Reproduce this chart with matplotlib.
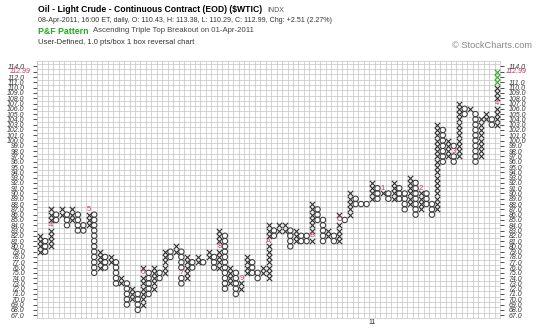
import matplotlib
matplotlib.use("Agg")
import matplotlib.pyplot as plt
import matplotlib.transforms as mtransforms
import numpy as np

# ---------------- data ----------------
col_type = ['X','O','X','O','X','O','X','O','O','X',
            'O','X','O','X','O','X','O','X','O','X',
            'O','X','O','X','O','X','O','X','O','X',
            'O','X','O','X','O','X','O','X','X','O',
            'O','X','X','O','X','X','O','X','O','O',
            'X','O','O','X','O','X','O','X','O','O',
            'O','X','O','X','O','X','O','O','X','O',
            'X','O','O','X','O','X','O','X','O','X',
            'O','X','X','O','X']
col_low = [79,79,80,85,86,84,85,83,83,84,
           75,76,76,77,73,73,69,70,68,69,
           71,72,74,75,78,79,73,74,76,77,
           77,78,76,76,72,73,71,72,75,75,
           74,75,74,82,83,83,80,81,81,81,
           81,85,81,82,81,81,85,86,88,88,
           88,89,89,90,89,89,89,87,88,86,
           87,88,86,87,96,97,96,97,105,106,
           96,97,104,103,103]
col_high = [82,81,87,86,87,86,87,86,84,87,
            86,79,78,78,77,74,73,72,71,76,
            75,76,75,79,79,80,79,78,77,78,
            77,79,78,83,82,76,75,74,78,77,
            75,76,84,83,84,84,83,83,82,82,
            88,87,85,83,82,86,85,90,89,88,
            88,92,91,91,90,92,91,90,93,92,
            91,90,88,103,102,100,99,107,106,106,
            105,104,105,104,113]
# month markers (column, box price, label)
month_col = [2, 9, 19, 26, 33, 37, 42, 50, 55, 63, 70, 76, 84]
month_box = [84, 87, 75, 75, 80, 74, 81, 82, 85, 91, 91, 98, 107]
month_lbl = ['4','5','6','7','8','9','A','B','C','1','2','3','4']
# latest boxes (shown in green)
new_col = [84, 84, 84]
new_box = [111, 112, 113]
last_close = 112.99
year_col = [61]
year_lbl = ['11']
price_levels = list(range(67, 115))

# ---------------- figure ----------------
W, H = 552, 329
fig = plt.figure(figsize=(W/100, H/100), dpi=100)
fig.patch.set_facecolor('white')
plt.rcParams['font.family'] = ['Liberation Sans', 'DejaVu Sans']

ax_left, ax_right, ax_top, ax_bot = 37, 500, 61.2, 317.8
ax = fig.add_axes([ax_left/W, 1-ax_bot/H, (ax_right-ax_left)/W, (ax_bot-ax_top)/H])
ncol = len(col_type)
ax.set_xlim(-0.5, ncol-0.5)
ax.set_ylim(66.5, 115.0)

# grid
for gx in np.arange(-0.5, ncol, 1.0):
    ax.axvline(gx, color='#c4c4c4', lw=0.5, zorder=1)
for gy in np.arange(66.5, 115.1, 1.0):
    ax.axhline(gy, color='#c4c4c4', lw=0.5, zorder=1)
for s in ax.spines.values():
    s.set_color('#c4c4c4'); s.set_linewidth(0.5)

# boxes
marked = set(zip(month_col, month_box))
green = set(zip(new_col, new_box))
xs_x, xs_y, os_x, os_y, gx_, gy_ = [], [], [], [], [], []
for i, (t, lo, hi) in enumerate(zip(col_type, col_low, col_high)):
    for p in range(lo, hi+1):
        if (i, p) in marked:
            continue
        if (i, p) in green:
            gx_.append(i); gy_.append(p)
        elif t == 'X':
            xs_x.append(i); xs_y.append(p)
        else:
            os_x.append(i); os_y.append(p)
ax.scatter(xs_x, xs_y, marker='x', s=15, linewidths=0.8, color='#2e2e2e', zorder=3)
ax.scatter(gx_, gy_, marker='x', s=15, linewidths=0.8, color='#33aa33', zorder=3)
ax.scatter(os_x, os_y, marker='o', s=15, linewidths=0.75, facecolors='none',
           edgecolors='#3c3c3c', zorder=3)
for c, b, l in zip(month_col, month_box, month_lbl):
    ax.text(c, b, l, color='#cc3355', fontsize=5.5, ha='center', va='center', zorder=4)

# y tick labels both sides
ax.set_xticks([])
ax.set_yticks(price_levels)
ax.set_yticklabels([f"{v:.1f}" if v != 113 else "" for v in price_levels])
ax.tick_params(axis='y', length=3, width=0.6, color='#333333', labelsize=5, pad=6,
               labelcolor='#333333')
for lab in ax.get_yticklabels():
    lab.set_fontstyle('italic')
ax2 = ax.twinx()
ax2.set_ylim(ax.get_ylim())
ax2.set_yticks(price_levels)
ax2.set_yticklabels([f"{v:.1f}" if v not in (113, 112) else "" for v in price_levels])
ax2.tick_params(axis='y', length=3, width=0.6, color='#333333', labelsize=5, pad=3,
                labelcolor='#333333')
for lab in ax2.get_yticklabels():
    lab.set_fontstyle('italic')
for s in ax2.spines.values():
    s.set_visible(False)
trr = mtransforms.blended_transform_factory(ax.transAxes, ax.transData)
ax.text(1.0 + 6/463, last_close, f"{last_close:.2f}", transform=trr, color='#cc3355',
        fontsize=5, fontstyle='italic', ha='left', va='center', clip_on=False)
ax.text(0 - 6/463, last_close, f"{last_close:.2f}", transform=trr, color='#cc3355',
        fontsize=5, fontstyle='italic', ha='right', va='center', clip_on=False)

# year marker
trb = mtransforms.blended_transform_factory(ax.transData, ax.transAxes)
for c, l in zip(year_col, year_lbl):
    ax.text(c, -0.005, l, transform=trb, fontsize=5, color='#333333', ha='center', va='top')

# header
def ftext(x, y, s, **kw):
    fig.text(x/W, 1-y/H, s, **kw)
ftext(38, 10, "Oil - Light Crude - Continuous Contract (EOD) ($WTIC)", fontsize=6.2,
      fontweight='bold', color='#000000', va='center')
ftext(267, 10, "INDX", fontsize=5, color='#555555', va='center')
ftext(38, 20, "08-Apr-2011, 16:00 ET, daily, O: 110.43, H: 113.38, L: 110.29, C: 112.99, Chg: +2.51 (2.27%)",
      fontsize=5.1, color='#333333', va='center')
ftext(38, 31, "P&F Pattern", fontsize=6.3, fontweight='bold', color='#22aa22', va='center')
ftext(93, 31, "Ascending Triple Top Breakout on 01-Apr-2011", fontsize=5.6, color='#444444', va='center')
ftext(38, 42, "User-Defined, 1.0 pts/box 1 box reversal chart", fontsize=5.5, color='#333333', va='center')
ftext(452, 46, "\u00a9 StockCharts.com", fontsize=6.7, color='#888888', va='center')

fig.savefig("out.png", dpi=100, facecolor='white')
